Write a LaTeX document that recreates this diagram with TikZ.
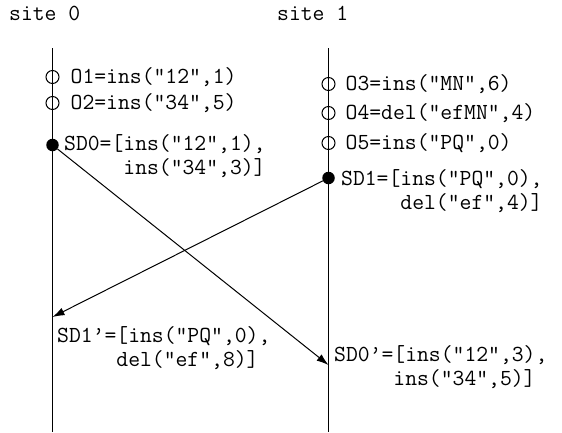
\documentclass[tikz,border=0pt]{standalone}
\usepackage{fontspec}
\usetikzlibrary{arrows.meta}
\begin{document}
\begin{tikzpicture}[x=1pt, y=-1pt, >={Latex[length=12pt,width=8pt]},
	lbl/.style={anchor=west, inner sep=0pt, align=left, font=\ttfamily\fontsize{23}{24}\selectfont},
	opn/.style={circle, draw, line width=1pt, minimum size=13pt, inner sep=0pt},
	snd/.style={circle, fill, minimum size=12.5pt, inner sep=0pt}]
	\useasboundingbox (0,0) rectangle (562,432);
	\path
		(52.5,48) coordinate (top0)
		(52.5,432) coordinate (bot0)
		(328.5,48) coordinate (top1)
		(328.5,432) coordinate (bot1)
		(328.5,365) coordinate (sd0in)
		(52.5,317) coordinate (sd1in)
	;
	\draw[line width=1.1pt] (top0) -- (bot0);
	\draw[line width=1.1pt] (top1) -- (bot1);

	\node[lbl] (site0) at (9,13) {site 0};
	\node[lbl] (site1) at (277,13) {site 1};

	% site 0
	\node[opn] (o1) at (52.5,77) {};
	\node[opn] (o2) at (52.5,103) {};
	\node[snd] (sd0) at (52.5,145) {};
	\node[lbl] (o1l) at (70.5,77) {O1=ins("12",1)};
	\node[lbl] (o2l) at (70.5,103) {O2=ins("34",5)};
	\node[lbl] (sd0l) at (64,156) {SD0=[ins("12",1),\\\phantom{SD0=[}ins("34",3)]};

	% site 1
	\node[opn] (o3) at (328.5,84) {};
	\node[opn] (o4) at (328.5,113) {};
	\node[opn] (o5) at (328.5,143) {};
	\node[snd] (sd1) at (328.5,178) {};
	\node[lbl] (o3l) at (345.5,84) {O3=ins("MN",6)};
	\node[lbl] (o4l) at (345.5,113) {O4=del("efMN",4)};
	\node[lbl] (o5l) at (345.5,143) {O5=ins("PQ",0)};
	\node[lbl] (sd1l) at (341,191) {SD1=[ins("PQ",0),\\\phantom{SD1=[}del("ef",4)]};

	% exchange
	\draw[->, line width=1pt] (sd0) -- (sd0in);
	\draw[->, line width=1pt] (sd1) -- (sd1in);
	\node[lbl] (sd1r) at (57,348.5) {SD1’=[ins("PQ",0),\\\phantom{SD1’=}del("ef",8)]};
	\node[lbl] (sd0r) at (334,367.5) {SD0’=[ins("12",3),\\\phantom{SD0’=}ins("34",5)]};
\end{tikzpicture}
\end{document}
